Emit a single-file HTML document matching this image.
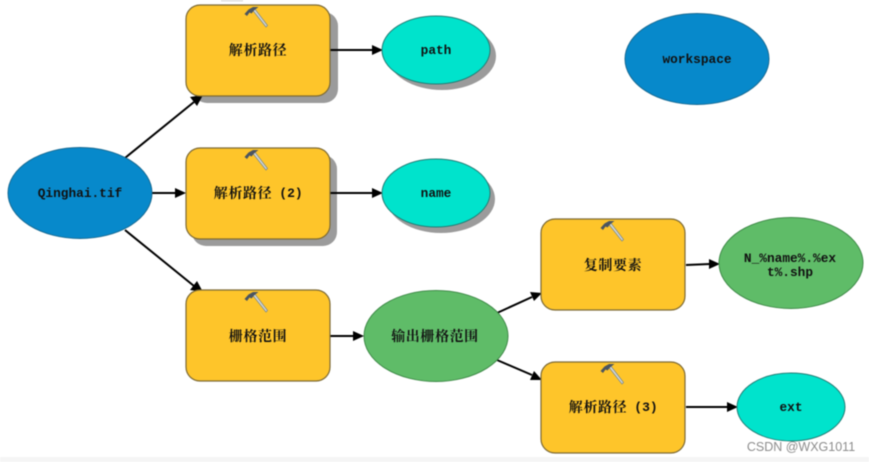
<!DOCTYPE html>
<html><head><meta charset="utf-8"><style>
html,body{margin:0;padding:0;background:#fff;width:869px;height:462px;overflow:hidden}
svg{display:block;filter:blur(.45px)}
text{font-family:"Liberation Mono","Noto Serif CJK SC",monospace;font-size:12.8px;font-weight:bold;fill:#111;text-anchor:middle}
.z{font-family:"Noto Serif CJK SC","Liberation Serif",serif;font-size:14px;letter-spacing:.6px}
.p{font-family:"Liberation Mono",monospace;font-size:13px}
.r{fill:#fec52a;stroke:#7d6a35;stroke-width:1.2}
.b{fill:#0789cb;stroke:#176a93;stroke-width:1}
.c{fill:#00e3cc;stroke:#227d75;stroke-width:1}
.g{fill:#5fbc68;stroke:#3f8a48;stroke-width:1}
.s{fill:#9b9b9b}
.l{stroke:#000;stroke-width:2;fill:none}
.a{fill:#000}
</style></head><body>
<svg width="869" height="462" viewBox="0 0 869 462" xmlns="http://www.w3.org/2000/svg">
<defs>
<g id="h">
<path d="M4.5 2 L6.5 .5 L19.5 17.5 L18 19 Z" fill="#d5d9d8" stroke="#7e8a88" stroke-width=".8"/>
<path d="M-3.5 6 L.5 1.5 L5 -1 L10.5 -1 L6 2.5 L3.5 5.5 L1.5 4.5 L-1 8 Z" fill="#4b5560"/>
</g>
</defs>
<rect x="0" y="457" width="869" height="5" fill="#f5f5f5"/>
<rect x="221" y="0" width="22" height="1.5" fill="#ddd"/>
<rect x="193" y="12" width="145" height="91" rx="14" class="s"/>
<ellipse cx="442" cy="56" rx="54" ry="34" class="s"/>
<rect x="192" y="155" width="145" height="91" rx="14" class="s"/>
<ellipse cx="441" cy="199" rx="54" ry="34" class="s"/>

<path class="l" d="M125 158 L194 102"/><path class="a" d="M203 95 L190 97 L197 106Z"/>
<path class="l" d="M152 193 L176 193"/><path class="a" d="M186 193 L175 188 L175 198Z"/>
<path class="l" d="M125 230 L194 286"/><path class="a" d="M203 292 L190 290 L197 281Z"/>
<path class="l" d="M330 50 L374 50"/><path class="a" d="M383 50 L372 45 L372 55Z"/>
<path class="l" d="M330 193 L374 193"/><path class="a" d="M383 193 L372 188 L372 198Z"/>
<path class="l" d="M330 336 L355 336"/><path class="a" d="M364 336 L353 331 L353 341Z"/>
<path class="l" d="M497 313 L532 297"/><path class="a" d="M542 293 L530 292 L534 301Z"/>
<path class="l" d="M497 360 L532 375"/><path class="a" d="M542 380 L534 371 L530 380Z"/>
<path class="l" d="M686 265 L710 264"/><path class="a" d="M720 264 L709 259 L709 269Z"/>
<path class="l" d="M686 407 L728 407"/><path class="a" d="M738 407 L727 402 L727 412Z"/>

<rect x="186" y="5" width="144" height="91" rx="14" class="r"/>
<rect x="186" y="148" width="144" height="91" rx="14" class="r"/>
<rect x="186" y="290" width="144" height="91" rx="14" class="r"/>
<rect x="541" y="219" width="144" height="91" rx="14" class="r"/>
<rect x="541" y="362" width="144" height="91" rx="14" class="r"/>

<ellipse cx="80" cy="193" rx="72" ry="45.5" class="b"/>
<ellipse cx="697" cy="59" rx="72" ry="45.5" class="b"/>
<ellipse cx="436" cy="50" rx="54" ry="34" class="c"/>
<ellipse cx="436" cy="193" rx="54" ry="34" class="c"/>
<ellipse cx="791" cy="407" rx="54" ry="34" class="c"/>
<ellipse cx="436" cy="336" rx="72" ry="45.5" class="g"/>
<ellipse cx="791" cy="263" rx="72" ry="45.5" class="g"/>

<use href="#h" x="248" y="8"/>
<use href="#h" x="248" y="151"/>
<use href="#h" x="248" y="293"/>
<use href="#h" x="604" y="222"/>
<use href="#h" x="604" y="365"/>

<text class="z" x="258" y="55">解析路径</text>
<text class="z" x="243" y="198">解析路径</text><text class="p" x="291" y="197">(2)</text>
<text class="z" x="258" y="341">栅格范围</text>
<text class="z" x="613" y="270">复制要素</text>
<text class="z" x="598" y="412">解析路径</text><text class="p" x="646" y="411">(3)</text>
<text class="z" x="435" y="341">输出栅格范围</text>
<text x="436" y="54">path</text>
<text x="436" y="197">name</text>
<text x="80" y="197">Qinghai.tif</text>
<text x="697" y="63">workspace</text>
<text x="791" y="411">ext</text>
<text x="790" y="262">N_%name%.%ex</text>
<text x="790" y="276">t%.shp</text>
<text x="801" y="451" style="font-family:'Liberation Sans',sans-serif;font-weight:normal;font-size:12.5px;fill:#8c8c8c">CSDN @WXG1011</text>
</svg>
</body></html>
